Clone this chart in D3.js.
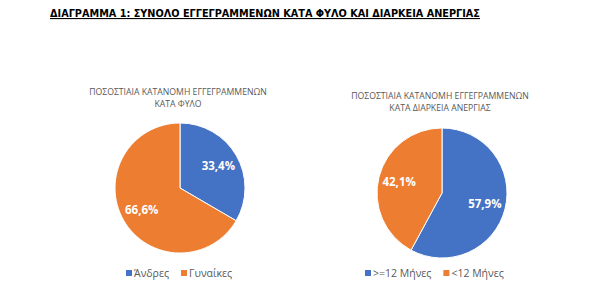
<!DOCTYPE html>
<html>
<head>
<meta charset="utf-8">
<script src="https://cdn.jsdelivr.net/npm/d3@7"></script>
<style>
  body { margin: 0; background: #fff; }
  svg text { font-family: "Open Sans", "DejaVu Sans", sans-serif; }
</style>
</head>
<body>
<svg id="chart" width="613" height="298"></svg>
<script>
var mainTitle = 'ΔΙΑΓΡΑΜΜΑ 1: ΣΥΝΟΛΟ ΕΓΓΕΓΡΑΜΜΕΝΩΝ ΚΑΤΑ ΦΥΛΟ ΚΑΙ ΔΙΑΡΚΕΙΑ ΑΝΕΡΓΙΑΣ';

var genderLabels = ['Άνδρες', 'Γυναίκες'];
var genderValues = [33.4, 66.6];
var genderTitle = ['ΠΟΣΟΣΤΙΑΙΑ ΚΑΤΑΝΟΜΗ ΕΓΓΕΓΡΑΜΜΕΝΩΝ', 'ΚΑΤΑ ΦΥΛΟ'];

var durationLabels = ['>=12 Μήνες', '<12 Μήνες'];
var durationValues = [57.9, 42.1];
var durationTitle = ['ΠΟΣΟΣΤΙΑΙΑ ΚΑΤΑΝΟΜΗ ΕΓΓΕΓΡΑΜΜΕΝΩΝ', 'ΚΑΤΑ ΔΙΑΡΚΕΙΑ ΑΝΕΡΓΙΑΣ'];

var colors = ['#4472c4', '#ed7d31'];

var svg = d3.select('#chart');

// main heading, bold + underlined
svg.append('text')
  .attr('x', 265).attr('y', 17)
  .attr('text-anchor', 'middle')
  .attr('textLength', 430)
  .attr('lengthAdjust', 'spacingAndGlyphs')
  .style('font-family', '"DejaVu Sans Condensed", "DejaVu Sans", sans-serif')
  .style('font-size', '11px')
  .style('font-weight', 'bold')
  .style('text-decoration', 'underline')
  .text(mainTitle);

function drawPie(cfg) {
  var g = svg.append('g');
  var r = 65;
  var pie = d3.pie().sort(null).value(function (d) { return d; });
  var arc = d3.arc().innerRadius(0).outerRadius(r);
  var labelArc = d3.arc().innerRadius(r * 0.68).outerRadius(r * 0.68);
  var arcs = pie(cfg.values);

  g.selectAll('text.ttl').data(cfg.title).enter().append('text')
    .attr('class', 'ttl')
    .attr('x', cfg.cx - 2).attr('y', function (d, i) { return cfg.titleY + i * 12; })
    .attr('text-anchor', 'middle')
    .style('font-size', '8.7px')
    .style('fill', '#595959')
    .text(function (d) { return d; });

  var pg = g.append('g').attr('transform', 'translate(' + cfg.cx + ',' + cfg.cy + ')');
  pg.selectAll('path').data(arcs).enter().append('path')
    .attr('d', arc)
    .attr('fill', function (d, i) { return colors[i]; })
    .attr('stroke', '#fff')
    .attr('stroke-width', 1);

  pg.selectAll('text.lbl').data(arcs).enter().append('text')
    .attr('class', 'lbl')
    .attr('transform', function (d) { return 'translate(' + labelArc.centroid(d) + ')'; })
    .attr('text-anchor', 'middle')
    .attr('dy', '0.35em')
    .style('fill', '#fff')
    .style('font-weight', 'bold')
    .style('font-size', '11.5px')
    .text(function (d) { return d3.format('.1f')(d.data).replace('.', ',') + '%'; });

  // legend
  var lg = g.append('g');
  var x = cfg.legendX;
  cfg.labels.forEach(function (lab, i) {
    lg.append('rect').attr('x', x).attr('y', cfg.legendY - 3)
      .attr('width', 6).attr('height', 6).attr('fill', colors[i]);
    var t = lg.append('text').attr('x', x + 8).attr('y', cfg.legendY)
      .attr('dy', '0.35em')
      .style('font-size', '10.5px').style('fill', '#595959').text(lab);
    x += 8 + t.node().getComputedTextLength() + 12;
  });
}

drawPie({ cx: 180, cy: 188, titleY: 95, legendX: 126, legendY: 273,
  values: genderValues, labels: genderLabels, title: genderTitle });
drawPie({ cx: 442, cy: 193, titleY: 99, legendX: 365, legendY: 273,
  values: durationValues, labels: durationLabels, title: durationTitle });
</script>
</body>
</html>
